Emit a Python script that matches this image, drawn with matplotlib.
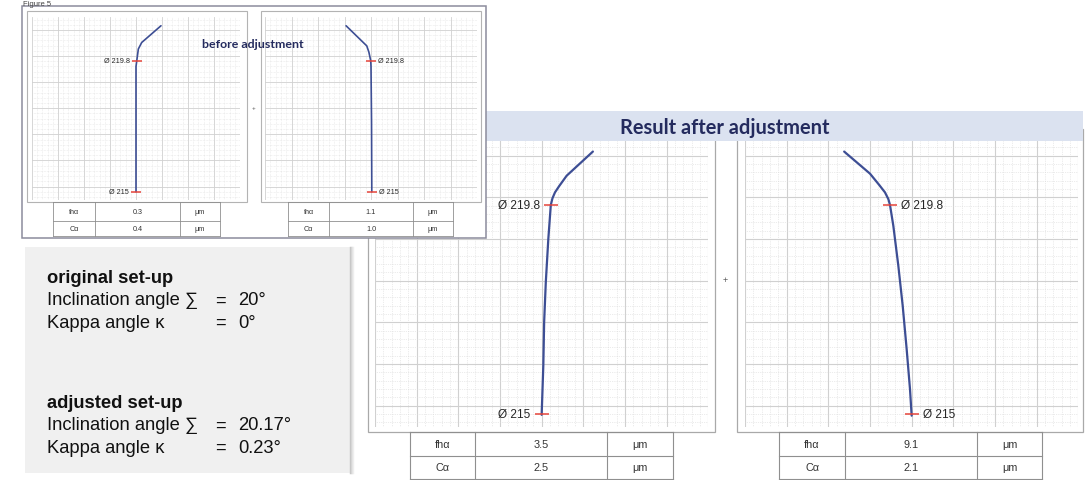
import matplotlib
matplotlib.use("Agg")
import matplotlib.pyplot as plt
from matplotlib.patches import Rectangle
from matplotlib.lines import Line2D
from matplotlib.ticker import MultipleLocator
import numpy as np

W, H = 1086, 481

# Flank profile traces in grid units (x: deviation, y: position along profile)
before_left_x = [4.0, 4.0, 4.0, 4.03, 4.09, 4.22, 4.96]
before_left_y = [-0.2, 2.5, 4.6, 4.82, 5.27, 5.52, 6.16]
before_right_x = [4.03, 4.02, 4.0, 3.99, 3.92, 3.84, 3.06]
before_right_y = [-0.2, 2.5, 4.6, 4.82, 5.15, 5.39, 6.16]

after_left_x = [4.0, 4.04, 4.06, 4.10, 4.16, 4.22, 4.26, 4.32, 4.42, 4.60, 5.23]
after_left_y = [-0.22, 0.96, 2.01, 2.97, 4.0, 4.82, 4.98, 5.12, 5.27, 5.52, 6.10]
after_right_x = [4.0, 3.96, 3.88, 3.785, 3.68, 3.56, 3.48, 3.44, 3.36, 3.22, 3.0, 2.38]
after_right_y = [-0.24, 0.40, 1.36, 2.40, 3.36, 4.32, 4.82, 4.96, 5.12, 5.30, 5.57, 6.10]

# Diameter marks along the profile
diam_labels = ["Ø 219.8", "Ø 215"]
diam_y = [4.82, -0.2]

# Evaluation tables
row_names = ["fhα", "Cα"]
before_values = [[0.3, 0.4], [1.1, 1.0]]
after_values = [[3.5, 2.5], [9.1, 2.1]]
unit = "μm"

# Machine set-up
setup_titles = ["original set-up", "adjusted set-up"]
inclination = [20, 20.17]
kappa = [0, 0.23]

CURVE = "#3d4e94"
MARK = "#e5443a"
NAVY = "#242b5e"
LINE = "#8f8f8f"
SANS = ["Liberation Sans", "DejaVu Sans"]
TITLE_FONT = ["Lato", "DejaVu Sans"]

fig = plt.figure(figsize=(W / 100, H / 100), dpi=100)
fig.patch.set_facecolor("white")


def fx(px):
    return px / W


def fy(py):
    return 1 - py / H


def rect(x0, y0, x1, y1, z, **kw):
    r = Rectangle((fx(x0), fy(y1)), (x1 - x0) / W, (y1 - y0) / H,
                  transform=fig.transFigure, zorder=z, **kw)
    fig.add_artist(r)
    return r


def hline(x0, x1, y, z, color=LINE, lw=0.8):
    fig.add_artist(Line2D([fx(x0), fx(x1)], [fy(y), fy(y)], transform=fig.transFigure,
                          color=color, lw=lw, zorder=z))


def vline(x, y0, y1, z, color=LINE, lw=0.8):
    fig.add_artist(Line2D([fx(x), fx(x)], [fy(y0), fy(y1)], transform=fig.transFigure,
                          color=color, lw=lw, zorder=z))


def grid_axes(x0, y0, x1, y1, z, major_lw=0.8, minor_lw=0.5):
    ax = fig.add_axes([fx(x0), fy(y1), (x1 - x0) / W, (y1 - y0) / H], zorder=z)
    ax.set_xlim(0, 8)
    ax.set_ylim(-0.5, 6.5)
    ax.xaxis.set_major_locator(MultipleLocator(1))
    ax.yaxis.set_major_locator(MultipleLocator(1))
    ax.xaxis.set_minor_locator(MultipleLocator(0.2))
    ax.yaxis.set_minor_locator(MultipleLocator(0.2))
    ax.grid(which="minor", color="#d9d9d9", lw=minor_lw, ls=(0, (1, 1.6)))
    ax.grid(which="major", color="#d0d0d0", lw=major_lw)
    ax.tick_params(which="both", length=0, labelbottom=False, labelleft=False)
    for s in ax.spines.values():
        s.set_visible(False)
    ax.set_facecolor("white")
    ax.set_axisbelow(True)
    return ax


def profile(ax, xs, ys, side, lw, ms, fs, off):
    ax.plot(xs, ys, color=CURVE, lw=lw, solid_capstyle="round", zorder=3)
    for lab, yv in zip(diam_labels, diam_y):
        xv = np.interp(yv, ys, xs)
        ax.plot([xv], [yv], marker="_", ms=ms, mew=1.1, color=MARK, zorder=4)
        sgn = -1 if side == "left" else 1
        ax.annotate(lab, (xv, yv), xytext=(sgn * off, 0), textcoords="offset points",
                    ha="right" if side == "left" else "left", va="center",
                    fontsize=fs, color="#262626", family=SANS, zorder=5)


def table(cols, rows, values, fs, z, lw=0.8):
    for x in cols:
        vline(x, rows[0], rows[-1], z, lw=lw)
    for y in rows:
        hline(cols[0], cols[-1], y, z, lw=lw)
    for i, name in enumerate(row_names):
        cells = [name, f"{values[i]:.1f}", unit]
        yc = (rows[i] + rows[i + 1]) / 2
        for j, t in enumerate(cells):
            fig.text(fx((cols[j] + cols[j + 1]) / 2), fy(yc), t, ha="center", va="center",
                     fontsize=fs, color="#333333", family=SANS, zorder=z)


# ---- Result after adjustment (large plots) ----
rect(368, 130, 715, 433, 1, facecolor="white", edgecolor="#a9a9a9", lw=0.9)
rect(737, 130, 1083, 433, 1, facecolor="white", edgecolor="#a9a9a9", lw=0.9)
axL = grid_axes(375, 135.9, 708.3, 427.5, 2)
axR = grid_axes(745, 135.9, 1078.3, 427.5, 2)
profile(axL, after_left_x, after_left_y, "left", 1.6, 10, 8.6, 8)
profile(axR, after_right_x, after_right_y, "right", 1.6, 10, 8.6, 8)
table([410, 475, 607, 673], [433, 457, 480], after_values[0], 7.8, 2)
table([779, 845, 977, 1042], [433, 457, 480], after_values[1], 7.8, 2)
fig.text(fx(725), fy(281), "+", ha="center", va="center", fontsize=6.5, color="#555555",
         family=SANS, zorder=2)

rect(485, 112, 1083, 142, 3, facecolor="#dbe2f0", edgecolor="none")
fig.text(fx(620), fy(134), "Result after adjustment", ha="left", va="baseline",
         fontsize=14.4, fontweight="bold", color=NAVY, family=TITLE_FONT, zorder=3.5)

# ---- before adjustment (inset) ----
rect(22, 7, 486, 239, 5, facecolor="white", edgecolor="#8c8c9c", lw=1.1)
rect(27, 12, 247, 203, 5.1, facecolor="white", edgecolor="#b3b3b3", lw=0.8)
rect(261, 12, 481, 203, 5.1, facecolor="white", edgecolor="#b3b3b3", lw=0.8)
axl = grid_axes(32, 17.9, 240, 200.6, 6, major_lw=0.6, minor_lw=0.4)
axr = grid_axes(265, 17.9, 477, 200.6, 6, major_lw=0.6, minor_lw=0.4)
profile(axl, before_left_x, before_left_y, "left", 1.2, 6.5, 5.2, 5)
profile(axr, before_right_x, before_right_y, "right", 1.2, 6.5, 5.2, 5)
table([53, 95, 180, 220], [203, 221.7, 237], before_values[0], 5.2, 6, lw=0.6)
table([288, 329, 413, 453], [203, 221.7, 237], before_values[1], 5.2, 6, lw=0.6)
fig.text(fx(253), fy(48), "before adjustment", ha="center", va="baseline", fontsize=8.9,
         fontweight="bold", color=NAVY, family=TITLE_FONT, zorder=7)
fig.text(fx(254), fy(108), "+", ha="center", va="center", fontsize=4.5, color="#555555",
         family=SANS, zorder=7)

# ---- Set-up panel ----
rect(25, 248, 350, 474, 5, facecolor="#f0f0f0", edgecolor="none")
for k, c in enumerate(["#c4c4c4", "#d4d4d4", "#e2e2e2", "#eeeeee"]):
    vline(350 + k, 248, 474, 5.2, color=c, lw=1.0)

fs_set = 13.2
blocks = [283, 408]
for title, inc, kap, yb in zip(setup_titles, inclination, kappa, blocks):
    fig.text(fx(47), fy(yb), title, ha="left", va="baseline", fontsize=fs_set,
             fontweight="bold", color="#111111", family=SANS, zorder=6)
    for dy, name, val in ((22.5, "Inclination angle ∑", inc), (45, "Kappa angle κ", kap)):
        fig.text(fx(47), fy(yb + dy), name, ha="left", va="baseline", fontsize=fs_set,
                 color="#111111", family=SANS, zorder=6)
        fig.text(fx(215), fy(yb + dy), "=", ha="left", va="baseline", fontsize=fs_set,
                 color="#111111", family=SANS, zorder=6)
        fig.text(fx(238), fy(yb + dy), f"{val:g}°", ha="left", va="baseline",
                 fontsize=fs_set, color="#111111", family=SANS, zorder=6)

fig.text(fx(23), fy(0.5), "Figure 5", ha="left", va="top", fontsize=5.5,
         color="#444444", family=SANS, zorder=8)

fig.savefig("out.png", dpi=100, facecolor="white")
